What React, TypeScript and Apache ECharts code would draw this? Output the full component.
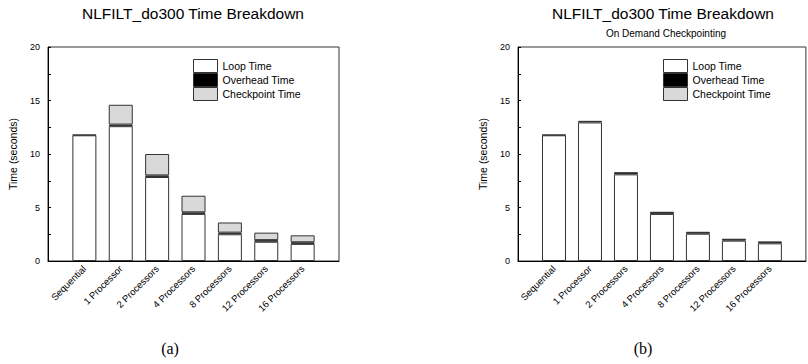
import React, { useEffect, useRef } from "react";
import * as echarts from "echarts";

const categories = ["", "Sequential", "1 Processor", "2 Processors", "4 Processors", "8 Processors", "12 Processors", "16 Processors", ""];
const seriesNames = ["Loop Time", "Overhead Time", "Checkpoint Time"];

// (a) NLFILT_do300 time breakdown
const loopA = [null, 11.75, 12.6, 7.85, 4.4, 2.5, 1.8, 1.6, null];
const overheadA = [null, 0.05, 0.15, 0.15, 0.15, 0.15, 0.15, 0.15, null];
const checkpointA = [null, 0, 1.85, 2.0, 1.55, 0.95, 0.7, 0.65, null];

// (b) On demand checkpointing
const loopB = [null, 11.75, 12.95, 8.1, 4.4, 2.55, 1.9, 1.65, null];
const overheadB = [null, 0.05, 0.15, 0.2, 0.2, 0.18, 0.18, 0.18, null];
const checkpointB = [null, 0, 0, 0, 0, 0, 0, 0, null];

const yTicks = { min: 0, max: 20, interval: 5 };

const FONT = "'Liberation Sans', Arial, sans-serif";
const fills = ["#ffffff", "#000000", "#d9d9d9"];

export default function App() {
  const ref = useRef<HTMLDivElement>(null);
  useEffect(() => {
    if (!ref.current) return;
    const chart = echarts.init(ref.current, null, { renderer: "svg" });
    const grids = [
      { left: 48, top: 47, width: 291, height: 214 },
      { left: 518, top: 47, width: 291, height: 214 },
    ];
    const clean = (arr: (number | null)[]) => arr.map((v) => (v === 0 ? null : v));
    const dataSets = [
      [loopA, overheadA, checkpointA],
      [loopB, overheadB, checkpointB],
    ];
    const series: any[] = [];
    dataSets.forEach((set, gi) => {
      set.forEach((arr, si) => {
        series.push({
          type: "bar",
          name: seriesNames[si],
          xAxisIndex: gi,
          yAxisIndex: gi,
          stack: "s" + gi,
          barWidth: 24,
          data: clean(arr),
          itemStyle: { color: fills[si], borderColor: "#333", borderWidth: 1 },
          emphasis: { disabled: true },
        });
      });
    });
    const xAxes = grids.map((_, gi) => ({
      type: "category",
      gridIndex: gi,
      data: categories,
      boundaryGap: false,
      axisLine: { lineStyle: { color: "#000", width: 1 } },
      axisTick: { show: false },
      axisLabel: {
        interval: 0,
        rotate: 45,
        fontSize: 9.5,
        color: "#000",
        fontFamily: FONT,
        margin: 6,
      },
      splitLine: { show: false },
    }));
    const yAxes = grids.map((_, gi) => ({
      type: "value",
      gridIndex: gi,
      min: yTicks.min,
      max: yTicks.max,
      interval: yTicks.interval,
      name: "Time (seconds)",
      nameLocation: "middle",
      nameGap: 30,
      nameTextStyle: { fontSize: 10.5, color: "#000", fontFamily: FONT },
      axisLine: { show: true, lineStyle: { color: "#000", width: 1 } },
      axisTick: { show: true, inside: true, length: 3, lineStyle: { color: "#000" } },
      minorTick: { show: true, splitNumber: 2, length: 3, lineStyle: { color: "#000" } },
      axisLabel: { fontSize: 9, color: "#000", fontFamily: FONT, margin: 8 },
      splitLine: { show: false },
    }));
    const legendPos = [
      { left: 193, top: 59 },
      { left: 663, top: 59 },
    ];
    chart.setOption({
      animation: false,
      backgroundColor: "#fff",
      grid: grids.map((g) => ({ ...g, show: true, borderColor: "#333", borderWidth: 1, backgroundColor: "transparent" })),
      xAxis: xAxes,
      yAxis: yAxes,
      legend: legendPos.map((p) => ({
        ...p,
        orient: "vertical",
        padding: 0,
        itemGap: 0,
        itemWidth: 24,
        itemHeight: 13,
        icon: "rect",
        selectedMode: false,
        data: seriesNames,
        itemStyle: { borderColor: "#333", borderWidth: 1 },
        textStyle: { fontSize: 10.5, color: "#000", fontFamily: FONT },
      })),
      series,
      graphic: [
        {
          type: "text",
          x: 193,
          y: 13,
          style: { text: "NLFILT_do300 Time Breakdown", fontSize: 15.5, fontFamily: FONT, fill: "#000", align: "center", verticalAlign: "middle" },
        },
        {
          type: "text",
          x: 663,
          y: 13,
          style: { text: "NLFILT_do300 Time Breakdown", fontSize: 15.5, fontFamily: FONT, fill: "#000", align: "center", verticalAlign: "middle" },
        },
        {
          type: "text",
          x: 666,
          y: 33,
          style: { text: "On Demand Checkpointing", fontSize: 10, fontFamily: FONT, fill: "#000", align: "center", verticalAlign: "middle" },
        },
        {
          type: "text",
          x: 170,
          y: 348,
          style: { text: "(a)", fontSize: 16, fontFamily: "'Liberation Serif', 'Times New Roman', serif", fill: "#000", align: "center", verticalAlign: "middle" },
        },
        {
          type: "text",
          x: 643,
          y: 348,
          style: { text: "(b)", fontSize: 16, fontFamily: "'Liberation Serif', 'Times New Roman', serif", fill: "#000", align: "center", verticalAlign: "middle" },
        },
      ],
    });
    return () => chart.dispose();
  }, []);
  return (
    <div
      ref={ref}
      style={{ position: "absolute", left: 0, top: 0, width: 808, height: 364, background: "#fff" }}
    />
  );
}
